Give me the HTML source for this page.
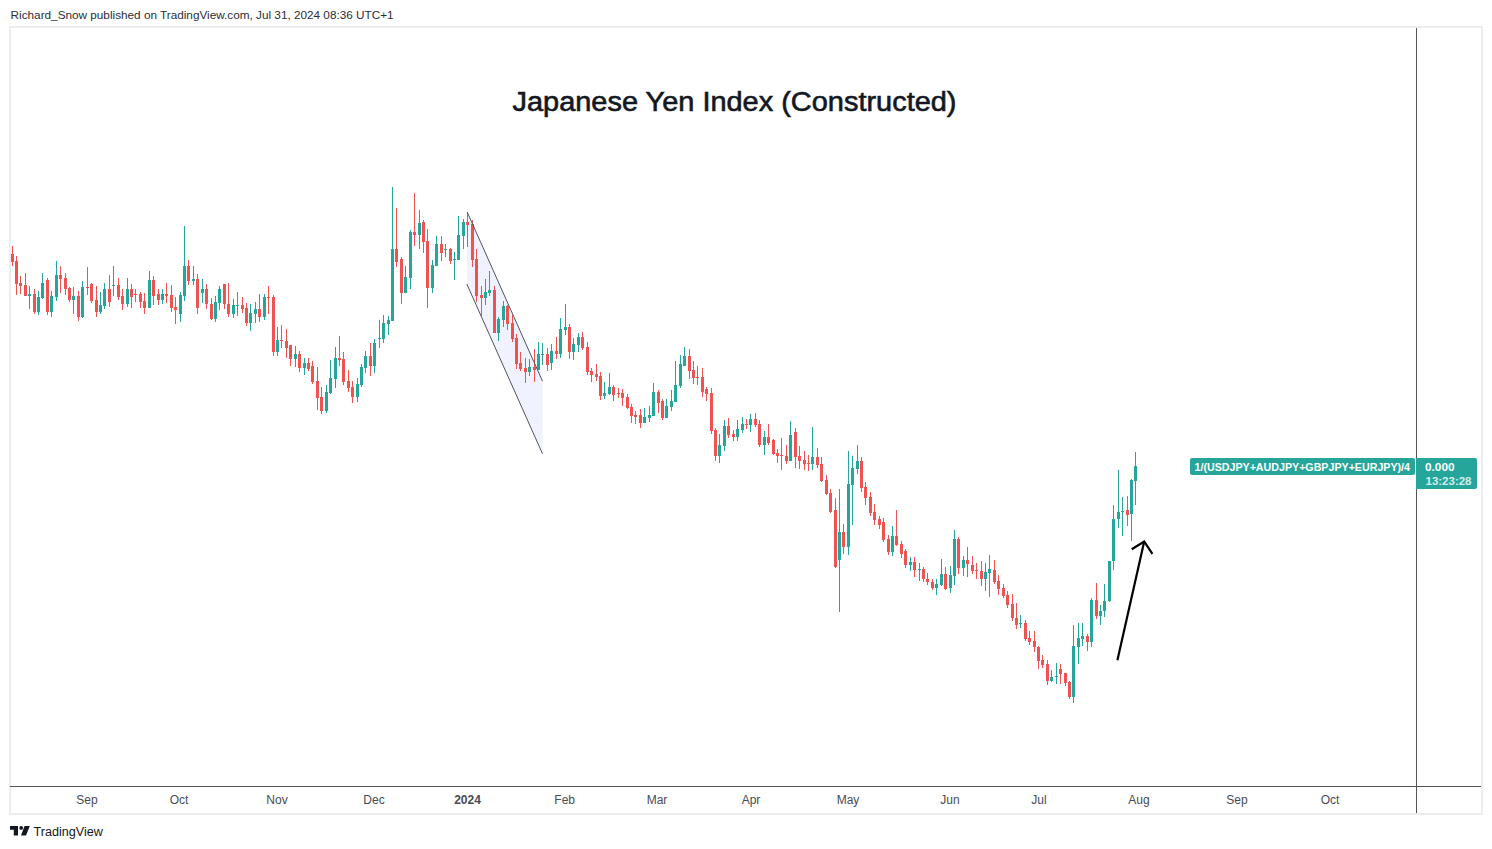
<!DOCTYPE html>
<html><head><meta charset="utf-8"><style>
html,body{margin:0;padding:0;background:#fff;}
body{width:1492px;height:849px;position:relative;overflow:hidden;font-family:"Liberation Sans",sans-serif;}
.hdr{position:absolute;left:10px;top:6px;font-size:12px;color:#131722;white-space:nowrap;line-height:16px;}
.box{position:absolute;left:9px;top:26px;width:1470px;height:785px;border:2px solid #ecedf1;}
svg{position:absolute;left:0;top:0;}
.tv{position:absolute;left:33px;top:822px;font-size:12.5px;color:#131722;line-height:16px;}
</style></head><body>
<div class="box"></div>
<svg width="1492" height="849" viewBox="0 0 1492 849" shape-rendering="crispEdges">
<rect x="10" y="786" width="1471" height="1" fill="#50535e"/>
<rect x="1416" y="28" width="1" height="785" fill="#50535e"/>
<g shape-rendering="auto">
<polygon points="467,212 542.5,381 542.5,453.5 467,284" fill="#f0f3ff"/>
</g>
<rect x="12" y="246" width="1" height="20" fill="#ef5350"/>
<rect x="11" y="254" width="3" height="8" fill="#ef5350"/>
<rect x="16" y="256" width="1" height="39" fill="#ef5350"/>
<rect x="15" y="261" width="3" height="23" fill="#ef5350"/>
<rect x="20" y="276" width="1" height="18" fill="#ef5350"/>
<rect x="19" y="283" width="3" height="3" fill="#ef5350"/>
<rect x="25" y="273" width="1" height="23" fill="#ef5350"/>
<rect x="24" y="285" width="3" height="11" fill="#ef5350"/>
<rect x="29" y="286" width="1" height="23" fill="#26a69a"/>
<rect x="28" y="294" width="3" height="2" fill="#26a69a"/>
<rect x="34" y="289" width="1" height="25" fill="#ef5350"/>
<rect x="33" y="294" width="3" height="18" fill="#ef5350"/>
<rect x="38" y="291" width="1" height="24" fill="#26a69a"/>
<rect x="37" y="297" width="3" height="15" fill="#26a69a"/>
<rect x="42" y="273" width="1" height="26" fill="#26a69a"/>
<rect x="41" y="283" width="3" height="15" fill="#26a69a"/>
<rect x="47" y="278" width="1" height="37" fill="#ef5350"/>
<rect x="46" y="280" width="3" height="32" fill="#ef5350"/>
<rect x="51" y="291" width="1" height="26" fill="#26a69a"/>
<rect x="50" y="296" width="3" height="16" fill="#26a69a"/>
<rect x="56" y="261" width="1" height="40" fill="#26a69a"/>
<rect x="55" y="275" width="3" height="22" fill="#26a69a"/>
<rect x="60" y="266" width="1" height="27" fill="#ef5350"/>
<rect x="59" y="275" width="3" height="4" fill="#ef5350"/>
<rect x="65" y="273" width="1" height="22" fill="#ef5350"/>
<rect x="64" y="278" width="3" height="11" fill="#ef5350"/>
<rect x="69" y="287" width="1" height="15" fill="#ef5350"/>
<rect x="68" y="288" width="3" height="12" fill="#ef5350"/>
<rect x="73" y="287" width="1" height="27" fill="#26a69a"/>
<rect x="72" y="296" width="3" height="4" fill="#26a69a"/>
<rect x="78" y="291" width="1" height="30" fill="#ef5350"/>
<rect x="77" y="296" width="3" height="21" fill="#ef5350"/>
<rect x="82" y="281" width="1" height="37" fill="#26a69a"/>
<rect x="81" y="287" width="3" height="30" fill="#26a69a"/>
<rect x="87" y="267" width="1" height="28" fill="#ef5350"/>
<rect x="86" y="287" width="3" height="1" fill="#ef5350"/>
<rect x="91" y="283" width="1" height="20" fill="#ef5350"/>
<rect x="90" y="284" width="3" height="17" fill="#ef5350"/>
<rect x="96" y="286" width="1" height="31" fill="#ef5350"/>
<rect x="95" y="300" width="3" height="12" fill="#ef5350"/>
<rect x="100" y="292" width="1" height="22" fill="#26a69a"/>
<rect x="99" y="305" width="3" height="7" fill="#26a69a"/>
<rect x="104" y="283" width="1" height="26" fill="#26a69a"/>
<rect x="103" y="289" width="3" height="17" fill="#26a69a"/>
<rect x="109" y="275" width="1" height="32" fill="#ef5350"/>
<rect x="108" y="289" width="3" height="13" fill="#ef5350"/>
<rect x="113" y="266" width="1" height="30" fill="#26a69a"/>
<rect x="112" y="285" width="3" height="1" fill="#26a69a"/>
<rect x="118" y="278" width="1" height="22" fill="#ef5350"/>
<rect x="117" y="285" width="3" height="12" fill="#ef5350"/>
<rect x="122" y="289" width="1" height="21" fill="#ef5350"/>
<rect x="121" y="296" width="3" height="8" fill="#ef5350"/>
<rect x="127" y="278" width="1" height="29" fill="#26a69a"/>
<rect x="126" y="289" width="3" height="15" fill="#26a69a"/>
<rect x="131" y="284" width="1" height="24" fill="#ef5350"/>
<rect x="130" y="289" width="3" height="8" fill="#ef5350"/>
<rect x="135" y="289" width="1" height="13" fill="#ef5350"/>
<rect x="134" y="294" width="3" height="1" fill="#ef5350"/>
<rect x="140" y="292" width="1" height="16" fill="#ef5350"/>
<rect x="139" y="294" width="3" height="8" fill="#ef5350"/>
<rect x="144" y="293" width="1" height="21" fill="#ef5350"/>
<rect x="143" y="301" width="3" height="7" fill="#ef5350"/>
<rect x="149" y="271" width="1" height="37" fill="#26a69a"/>
<rect x="148" y="280" width="3" height="28" fill="#26a69a"/>
<rect x="153" y="276" width="1" height="29" fill="#ef5350"/>
<rect x="152" y="280" width="3" height="16" fill="#ef5350"/>
<rect x="158" y="289" width="1" height="16" fill="#ef5350"/>
<rect x="157" y="294" width="3" height="6" fill="#ef5350"/>
<rect x="162" y="289" width="1" height="15" fill="#26a69a"/>
<rect x="161" y="294" width="3" height="6" fill="#26a69a"/>
<rect x="166" y="283" width="1" height="20" fill="#ef5350"/>
<rect x="165" y="294" width="3" height="2" fill="#ef5350"/>
<rect x="171" y="285" width="1" height="27" fill="#ef5350"/>
<rect x="170" y="295" width="3" height="13" fill="#ef5350"/>
<rect x="175" y="297" width="1" height="27" fill="#ef5350"/>
<rect x="174" y="307" width="3" height="3" fill="#ef5350"/>
<rect x="180" y="292" width="1" height="30" fill="#26a69a"/>
<rect x="179" y="295" width="3" height="19" fill="#26a69a"/>
<rect x="184" y="226" width="1" height="75" fill="#26a69a"/>
<rect x="183" y="266" width="3" height="30" fill="#26a69a"/>
<rect x="188" y="260" width="1" height="25" fill="#ef5350"/>
<rect x="187" y="266" width="3" height="15" fill="#ef5350"/>
<rect x="193" y="266" width="1" height="19" fill="#26a69a"/>
<rect x="192" y="279" width="3" height="2" fill="#26a69a"/>
<rect x="197" y="274" width="1" height="40" fill="#ef5350"/>
<rect x="196" y="279" width="3" height="29" fill="#ef5350"/>
<rect x="202" y="279" width="1" height="24" fill="#26a69a"/>
<rect x="201" y="289" width="3" height="4" fill="#26a69a"/>
<rect x="206" y="284" width="1" height="25" fill="#ef5350"/>
<rect x="205" y="289" width="3" height="15" fill="#ef5350"/>
<rect x="211" y="298" width="1" height="22" fill="#ef5350"/>
<rect x="210" y="304" width="3" height="15" fill="#ef5350"/>
<rect x="215" y="296" width="1" height="26" fill="#26a69a"/>
<rect x="214" y="302" width="3" height="17" fill="#26a69a"/>
<rect x="219" y="286" width="1" height="24" fill="#26a69a"/>
<rect x="218" y="289" width="3" height="14" fill="#26a69a"/>
<rect x="224" y="284" width="1" height="25" fill="#ef5350"/>
<rect x="223" y="284" width="3" height="20" fill="#ef5350"/>
<rect x="228" y="283" width="1" height="34" fill="#ef5350"/>
<rect x="227" y="304" width="3" height="10" fill="#ef5350"/>
<rect x="233" y="299" width="1" height="19" fill="#26a69a"/>
<rect x="232" y="305" width="3" height="9" fill="#26a69a"/>
<rect x="237" y="292" width="1" height="24" fill="#26a69a"/>
<rect x="236" y="305" width="3" height="1" fill="#26a69a"/>
<rect x="242" y="297" width="1" height="16" fill="#ef5350"/>
<rect x="241" y="305" width="3" height="4" fill="#ef5350"/>
<rect x="246" y="303" width="1" height="23" fill="#ef5350"/>
<rect x="245" y="308" width="3" height="15" fill="#ef5350"/>
<rect x="250" y="304" width="1" height="27" fill="#26a69a"/>
<rect x="249" y="313" width="3" height="10" fill="#26a69a"/>
<rect x="255" y="302" width="1" height="21" fill="#26a69a"/>
<rect x="254" y="309" width="3" height="5" fill="#26a69a"/>
<rect x="259" y="294" width="1" height="28" fill="#ef5350"/>
<rect x="258" y="309" width="3" height="8" fill="#ef5350"/>
<rect x="264" y="294" width="1" height="26" fill="#26a69a"/>
<rect x="263" y="297" width="3" height="20" fill="#26a69a"/>
<rect x="268" y="286" width="1" height="28" fill="#ef5350"/>
<rect x="267" y="297" width="3" height="1" fill="#ef5350"/>
<rect x="273" y="295" width="1" height="61" fill="#ef5350"/>
<rect x="272" y="297" width="3" height="55" fill="#ef5350"/>
<rect x="277" y="327" width="1" height="29" fill="#26a69a"/>
<rect x="276" y="340" width="3" height="12" fill="#26a69a"/>
<rect x="281" y="325" width="1" height="23" fill="#ef5350"/>
<rect x="280" y="340" width="3" height="1" fill="#ef5350"/>
<rect x="286" y="329" width="1" height="29" fill="#ef5350"/>
<rect x="285" y="341" width="3" height="7" fill="#ef5350"/>
<rect x="290" y="345" width="1" height="21" fill="#ef5350"/>
<rect x="289" y="345" width="3" height="14" fill="#ef5350"/>
<rect x="295" y="346" width="1" height="21" fill="#26a69a"/>
<rect x="294" y="354" width="3" height="5" fill="#26a69a"/>
<rect x="299" y="351" width="1" height="21" fill="#ef5350"/>
<rect x="298" y="354" width="3" height="14" fill="#ef5350"/>
<rect x="304" y="358" width="1" height="17" fill="#26a69a"/>
<rect x="303" y="363" width="3" height="5" fill="#26a69a"/>
<rect x="308" y="358" width="1" height="13" fill="#ef5350"/>
<rect x="307" y="363" width="3" height="6" fill="#ef5350"/>
<rect x="312" y="361" width="1" height="23" fill="#ef5350"/>
<rect x="311" y="366" width="3" height="16" fill="#ef5350"/>
<rect x="317" y="367" width="1" height="43" fill="#ef5350"/>
<rect x="316" y="381" width="3" height="17" fill="#ef5350"/>
<rect x="321" y="387" width="1" height="27" fill="#ef5350"/>
<rect x="320" y="397" width="3" height="14" fill="#ef5350"/>
<rect x="326" y="385" width="1" height="28" fill="#26a69a"/>
<rect x="325" y="392" width="3" height="19" fill="#26a69a"/>
<rect x="330" y="360" width="1" height="34" fill="#26a69a"/>
<rect x="329" y="378" width="3" height="15" fill="#26a69a"/>
<rect x="335" y="347" width="1" height="41" fill="#26a69a"/>
<rect x="334" y="358" width="3" height="21" fill="#26a69a"/>
<rect x="339" y="336" width="1" height="30" fill="#ef5350"/>
<rect x="338" y="358" width="3" height="2" fill="#ef5350"/>
<rect x="343" y="352" width="1" height="33" fill="#ef5350"/>
<rect x="342" y="359" width="3" height="23" fill="#ef5350"/>
<rect x="348" y="370" width="1" height="22" fill="#ef5350"/>
<rect x="347" y="381" width="3" height="7" fill="#ef5350"/>
<rect x="352" y="381" width="1" height="22" fill="#ef5350"/>
<rect x="351" y="387" width="3" height="10" fill="#ef5350"/>
<rect x="357" y="378" width="1" height="24" fill="#26a69a"/>
<rect x="356" y="384" width="3" height="13" fill="#26a69a"/>
<rect x="361" y="364" width="1" height="23" fill="#26a69a"/>
<rect x="360" y="367" width="3" height="18" fill="#26a69a"/>
<rect x="365" y="351" width="1" height="22" fill="#26a69a"/>
<rect x="364" y="356" width="3" height="12" fill="#26a69a"/>
<rect x="370" y="343" width="1" height="33" fill="#ef5350"/>
<rect x="369" y="356" width="3" height="10" fill="#ef5350"/>
<rect x="374" y="339" width="1" height="34" fill="#26a69a"/>
<rect x="373" y="343" width="3" height="23" fill="#26a69a"/>
<rect x="379" y="320" width="1" height="28" fill="#26a69a"/>
<rect x="378" y="338" width="3" height="1" fill="#26a69a"/>
<rect x="383" y="315" width="1" height="28" fill="#26a69a"/>
<rect x="382" y="323" width="3" height="16" fill="#26a69a"/>
<rect x="388" y="316" width="1" height="19" fill="#26a69a"/>
<rect x="387" y="320" width="3" height="4" fill="#26a69a"/>
<rect x="392" y="187" width="1" height="134" fill="#26a69a"/>
<rect x="391" y="249" width="3" height="72" fill="#26a69a"/>
<rect x="396" y="208" width="1" height="59" fill="#ef5350"/>
<rect x="395" y="249" width="3" height="13" fill="#ef5350"/>
<rect x="401" y="257" width="1" height="47" fill="#ef5350"/>
<rect x="400" y="259" width="3" height="34" fill="#ef5350"/>
<rect x="405" y="266" width="1" height="27" fill="#26a69a"/>
<rect x="404" y="277" width="3" height="16" fill="#26a69a"/>
<rect x="410" y="230" width="1" height="59" fill="#26a69a"/>
<rect x="409" y="232" width="3" height="46" fill="#26a69a"/>
<rect x="414" y="193" width="1" height="53" fill="#ef5350"/>
<rect x="413" y="232" width="3" height="3" fill="#ef5350"/>
<rect x="419" y="210" width="1" height="39" fill="#26a69a"/>
<rect x="418" y="223" width="3" height="12" fill="#26a69a"/>
<rect x="423" y="220" width="1" height="33" fill="#ef5350"/>
<rect x="422" y="222" width="3" height="20" fill="#ef5350"/>
<rect x="427" y="229" width="1" height="79" fill="#ef5350"/>
<rect x="426" y="241" width="3" height="47" fill="#ef5350"/>
<rect x="432" y="260" width="1" height="33" fill="#26a69a"/>
<rect x="431" y="265" width="3" height="23" fill="#26a69a"/>
<rect x="436" y="236" width="1" height="30" fill="#26a69a"/>
<rect x="435" y="244" width="3" height="22" fill="#26a69a"/>
<rect x="441" y="236" width="1" height="25" fill="#ef5350"/>
<rect x="440" y="244" width="3" height="9" fill="#ef5350"/>
<rect x="445" y="244" width="1" height="13" fill="#26a69a"/>
<rect x="444" y="249" width="3" height="1" fill="#26a69a"/>
<rect x="450" y="248" width="1" height="16" fill="#ef5350"/>
<rect x="449" y="249" width="3" height="12" fill="#ef5350"/>
<rect x="454" y="252" width="1" height="28" fill="#26a69a"/>
<rect x="453" y="259" width="3" height="1" fill="#26a69a"/>
<rect x="458" y="216" width="1" height="44" fill="#26a69a"/>
<rect x="457" y="235" width="3" height="25" fill="#26a69a"/>
<rect x="463" y="219" width="1" height="30" fill="#26a69a"/>
<rect x="462" y="222" width="3" height="14" fill="#26a69a"/>
<rect x="467" y="212" width="1" height="35" fill="#ef5350"/>
<rect x="466" y="222" width="3" height="3" fill="#ef5350"/>
<rect x="472" y="220" width="1" height="47" fill="#ef5350"/>
<rect x="471" y="224" width="3" height="36" fill="#ef5350"/>
<rect x="476" y="249" width="1" height="53" fill="#ef5350"/>
<rect x="475" y="259" width="3" height="37" fill="#ef5350"/>
<rect x="481" y="286" width="1" height="30" fill="#ef5350"/>
<rect x="480" y="295" width="3" height="3" fill="#ef5350"/>
<rect x="485" y="279" width="1" height="26" fill="#26a69a"/>
<rect x="484" y="292" width="3" height="6" fill="#26a69a"/>
<rect x="489" y="271" width="1" height="25" fill="#26a69a"/>
<rect x="488" y="290" width="3" height="3" fill="#26a69a"/>
<rect x="494" y="286" width="1" height="47" fill="#ef5350"/>
<rect x="493" y="290" width="3" height="43" fill="#ef5350"/>
<rect x="498" y="317" width="1" height="24" fill="#26a69a"/>
<rect x="497" y="319" width="3" height="14" fill="#26a69a"/>
<rect x="503" y="301" width="1" height="26" fill="#26a69a"/>
<rect x="502" y="306" width="3" height="14" fill="#26a69a"/>
<rect x="507" y="305" width="1" height="25" fill="#ef5350"/>
<rect x="506" y="306" width="3" height="18" fill="#ef5350"/>
<rect x="512" y="315" width="1" height="27" fill="#ef5350"/>
<rect x="511" y="323" width="3" height="16" fill="#ef5350"/>
<rect x="516" y="334" width="1" height="35" fill="#ef5350"/>
<rect x="515" y="338" width="3" height="26" fill="#ef5350"/>
<rect x="520" y="352" width="1" height="19" fill="#ef5350"/>
<rect x="519" y="363" width="3" height="6" fill="#ef5350"/>
<rect x="525" y="358" width="1" height="25" fill="#ef5350"/>
<rect x="524" y="368" width="3" height="4" fill="#ef5350"/>
<rect x="529" y="359" width="1" height="17" fill="#26a69a"/>
<rect x="528" y="367" width="3" height="5" fill="#26a69a"/>
<rect x="534" y="349" width="1" height="33" fill="#ef5350"/>
<rect x="533" y="367" width="3" height="3" fill="#ef5350"/>
<rect x="538" y="342" width="1" height="28" fill="#26a69a"/>
<rect x="537" y="354" width="3" height="16" fill="#26a69a"/>
<rect x="542" y="343" width="1" height="22" fill="#26a69a"/>
<rect x="541" y="354" width="3" height="1" fill="#26a69a"/>
<rect x="547" y="348" width="1" height="23" fill="#ef5350"/>
<rect x="546" y="354" width="3" height="11" fill="#ef5350"/>
<rect x="551" y="344" width="1" height="26" fill="#26a69a"/>
<rect x="550" y="351" width="3" height="12" fill="#26a69a"/>
<rect x="556" y="337" width="1" height="22" fill="#ef5350"/>
<rect x="555" y="351" width="3" height="3" fill="#ef5350"/>
<rect x="560" y="318" width="1" height="40" fill="#26a69a"/>
<rect x="559" y="329" width="3" height="25" fill="#26a69a"/>
<rect x="565" y="304" width="1" height="31" fill="#26a69a"/>
<rect x="564" y="327" width="3" height="3" fill="#26a69a"/>
<rect x="569" y="324" width="1" height="35" fill="#ef5350"/>
<rect x="568" y="327" width="3" height="25" fill="#ef5350"/>
<rect x="573" y="338" width="1" height="22" fill="#26a69a"/>
<rect x="572" y="344" width="3" height="8" fill="#26a69a"/>
<rect x="578" y="333" width="1" height="19" fill="#26a69a"/>
<rect x="577" y="337" width="3" height="8" fill="#26a69a"/>
<rect x="582" y="332" width="1" height="18" fill="#ef5350"/>
<rect x="581" y="337" width="3" height="11" fill="#ef5350"/>
<rect x="587" y="342" width="1" height="33" fill="#ef5350"/>
<rect x="586" y="347" width="3" height="25" fill="#ef5350"/>
<rect x="591" y="368" width="1" height="14" fill="#ef5350"/>
<rect x="590" y="371" width="3" height="4" fill="#ef5350"/>
<rect x="596" y="364" width="1" height="17" fill="#ef5350"/>
<rect x="595" y="374" width="3" height="3" fill="#ef5350"/>
<rect x="600" y="372" width="1" height="28" fill="#ef5350"/>
<rect x="599" y="376" width="3" height="20" fill="#ef5350"/>
<rect x="604" y="382" width="1" height="17" fill="#26a69a"/>
<rect x="603" y="393" width="3" height="3" fill="#26a69a"/>
<rect x="609" y="373" width="1" height="22" fill="#26a69a"/>
<rect x="608" y="387" width="3" height="7" fill="#26a69a"/>
<rect x="613" y="385" width="1" height="16" fill="#ef5350"/>
<rect x="612" y="387" width="3" height="8" fill="#ef5350"/>
<rect x="618" y="388" width="1" height="10" fill="#ef5350"/>
<rect x="617" y="393" width="3" height="1" fill="#ef5350"/>
<rect x="622" y="389" width="1" height="17" fill="#ef5350"/>
<rect x="621" y="393" width="3" height="5" fill="#ef5350"/>
<rect x="627" y="394" width="1" height="15" fill="#ef5350"/>
<rect x="626" y="397" width="3" height="11" fill="#ef5350"/>
<rect x="631" y="404" width="1" height="19" fill="#ef5350"/>
<rect x="630" y="407" width="3" height="9" fill="#ef5350"/>
<rect x="635" y="411" width="1" height="13" fill="#ef5350"/>
<rect x="634" y="415" width="3" height="2" fill="#ef5350"/>
<rect x="640" y="409" width="1" height="19" fill="#ef5350"/>
<rect x="639" y="415" width="3" height="8" fill="#ef5350"/>
<rect x="644" y="408" width="1" height="15" fill="#26a69a"/>
<rect x="643" y="417" width="3" height="6" fill="#26a69a"/>
<rect x="649" y="406" width="1" height="16" fill="#26a69a"/>
<rect x="648" y="415" width="3" height="3" fill="#26a69a"/>
<rect x="653" y="383" width="1" height="33" fill="#26a69a"/>
<rect x="652" y="392" width="3" height="24" fill="#26a69a"/>
<rect x="658" y="390" width="1" height="23" fill="#ef5350"/>
<rect x="657" y="392" width="3" height="11" fill="#ef5350"/>
<rect x="662" y="399" width="1" height="21" fill="#ef5350"/>
<rect x="661" y="401" width="3" height="17" fill="#ef5350"/>
<rect x="666" y="399" width="1" height="19" fill="#26a69a"/>
<rect x="665" y="406" width="3" height="12" fill="#26a69a"/>
<rect x="671" y="390" width="1" height="21" fill="#26a69a"/>
<rect x="670" y="401" width="3" height="6" fill="#26a69a"/>
<rect x="675" y="361" width="1" height="41" fill="#26a69a"/>
<rect x="674" y="385" width="3" height="17" fill="#26a69a"/>
<rect x="680" y="355" width="1" height="33" fill="#26a69a"/>
<rect x="679" y="364" width="3" height="22" fill="#26a69a"/>
<rect x="684" y="347" width="1" height="19" fill="#26a69a"/>
<rect x="683" y="356" width="3" height="10" fill="#26a69a"/>
<rect x="689" y="349" width="1" height="30" fill="#ef5350"/>
<rect x="688" y="356" width="3" height="15" fill="#ef5350"/>
<rect x="693" y="361" width="1" height="23" fill="#ef5350"/>
<rect x="692" y="370" width="3" height="8" fill="#ef5350"/>
<rect x="697" y="366" width="1" height="19" fill="#ef5350"/>
<rect x="696" y="377" width="3" height="1" fill="#ef5350"/>
<rect x="702" y="368" width="1" height="29" fill="#ef5350"/>
<rect x="701" y="377" width="3" height="15" fill="#ef5350"/>
<rect x="706" y="387" width="1" height="14" fill="#ef5350"/>
<rect x="705" y="389" width="3" height="5" fill="#ef5350"/>
<rect x="711" y="388" width="1" height="46" fill="#ef5350"/>
<rect x="710" y="393" width="3" height="38" fill="#ef5350"/>
<rect x="715" y="428" width="1" height="33" fill="#ef5350"/>
<rect x="714" y="430" width="3" height="26" fill="#ef5350"/>
<rect x="719" y="434" width="1" height="29" fill="#26a69a"/>
<rect x="718" y="445" width="3" height="11" fill="#26a69a"/>
<rect x="724" y="420" width="1" height="31" fill="#26a69a"/>
<rect x="723" y="426" width="3" height="20" fill="#26a69a"/>
<rect x="728" y="418" width="1" height="20" fill="#ef5350"/>
<rect x="727" y="426" width="3" height="9" fill="#ef5350"/>
<rect x="733" y="430" width="1" height="11" fill="#ef5350"/>
<rect x="732" y="434" width="3" height="3" fill="#ef5350"/>
<rect x="737" y="420" width="1" height="21" fill="#26a69a"/>
<rect x="736" y="429" width="3" height="8" fill="#26a69a"/>
<rect x="742" y="417" width="1" height="16" fill="#26a69a"/>
<rect x="741" y="424" width="3" height="6" fill="#26a69a"/>
<rect x="746" y="419" width="1" height="10" fill="#ef5350"/>
<rect x="745" y="424" width="3" height="1" fill="#ef5350"/>
<rect x="750" y="414" width="1" height="18" fill="#26a69a"/>
<rect x="749" y="419" width="3" height="6" fill="#26a69a"/>
<rect x="755" y="413" width="1" height="14" fill="#ef5350"/>
<rect x="754" y="419" width="3" height="6" fill="#ef5350"/>
<rect x="759" y="420" width="1" height="27" fill="#ef5350"/>
<rect x="758" y="424" width="3" height="21" fill="#ef5350"/>
<rect x="764" y="431" width="1" height="24" fill="#26a69a"/>
<rect x="763" y="437" width="3" height="8" fill="#26a69a"/>
<rect x="768" y="424" width="1" height="21" fill="#ef5350"/>
<rect x="767" y="437" width="3" height="6" fill="#ef5350"/>
<rect x="773" y="439" width="1" height="16" fill="#ef5350"/>
<rect x="772" y="440" width="3" height="14" fill="#ef5350"/>
<rect x="777" y="449" width="1" height="14" fill="#ef5350"/>
<rect x="776" y="453" width="3" height="3" fill="#ef5350"/>
<rect x="781" y="438" width="1" height="32" fill="#ef5350"/>
<rect x="780" y="455" width="3" height="1" fill="#ef5350"/>
<rect x="786" y="445" width="1" height="19" fill="#ef5350"/>
<rect x="785" y="456" width="3" height="5" fill="#ef5350"/>
<rect x="790" y="421" width="1" height="40" fill="#26a69a"/>
<rect x="789" y="435" width="3" height="26" fill="#26a69a"/>
<rect x="795" y="428" width="1" height="40" fill="#ef5350"/>
<rect x="794" y="432" width="3" height="25" fill="#ef5350"/>
<rect x="799" y="446" width="1" height="23" fill="#ef5350"/>
<rect x="798" y="456" width="3" height="5" fill="#ef5350"/>
<rect x="804" y="451" width="1" height="19" fill="#ef5350"/>
<rect x="803" y="460" width="3" height="4" fill="#ef5350"/>
<rect x="808" y="455" width="1" height="16" fill="#ef5350"/>
<rect x="807" y="463" width="3" height="1" fill="#ef5350"/>
<rect x="812" y="427" width="1" height="43" fill="#26a69a"/>
<rect x="811" y="457" width="3" height="7" fill="#26a69a"/>
<rect x="817" y="448" width="1" height="20" fill="#ef5350"/>
<rect x="816" y="457" width="3" height="8" fill="#ef5350"/>
<rect x="821" y="457" width="1" height="25" fill="#ef5350"/>
<rect x="820" y="464" width="3" height="17" fill="#ef5350"/>
<rect x="826" y="475" width="1" height="20" fill="#ef5350"/>
<rect x="825" y="480" width="3" height="14" fill="#ef5350"/>
<rect x="830" y="489" width="1" height="24" fill="#ef5350"/>
<rect x="829" y="493" width="3" height="19" fill="#ef5350"/>
<rect x="835" y="498" width="1" height="70" fill="#ef5350"/>
<rect x="834" y="510" width="3" height="57" fill="#ef5350"/>
<rect x="839" y="489" width="1" height="123" fill="#26a69a"/>
<rect x="838" y="532" width="3" height="28" fill="#26a69a"/>
<rect x="843" y="524" width="1" height="30" fill="#ef5350"/>
<rect x="842" y="532" width="3" height="15" fill="#ef5350"/>
<rect x="848" y="451" width="1" height="104" fill="#26a69a"/>
<rect x="847" y="484" width="3" height="63" fill="#26a69a"/>
<rect x="852" y="456" width="1" height="69" fill="#26a69a"/>
<rect x="851" y="468" width="3" height="17" fill="#26a69a"/>
<rect x="857" y="445" width="1" height="29" fill="#26a69a"/>
<rect x="856" y="461" width="3" height="8" fill="#26a69a"/>
<rect x="861" y="457" width="1" height="35" fill="#ef5350"/>
<rect x="860" y="461" width="3" height="27" fill="#ef5350"/>
<rect x="865" y="482" width="1" height="23" fill="#ef5350"/>
<rect x="864" y="487" width="3" height="11" fill="#ef5350"/>
<rect x="870" y="492" width="1" height="24" fill="#ef5350"/>
<rect x="869" y="497" width="3" height="16" fill="#ef5350"/>
<rect x="874" y="504" width="1" height="21" fill="#ef5350"/>
<rect x="873" y="512" width="3" height="8" fill="#ef5350"/>
<rect x="879" y="516" width="1" height="13" fill="#ef5350"/>
<rect x="878" y="519" width="3" height="6" fill="#ef5350"/>
<rect x="883" y="518" width="1" height="24" fill="#ef5350"/>
<rect x="882" y="522" width="3" height="18" fill="#ef5350"/>
<rect x="888" y="535" width="1" height="20" fill="#ef5350"/>
<rect x="887" y="539" width="3" height="13" fill="#ef5350"/>
<rect x="892" y="526" width="1" height="30" fill="#26a69a"/>
<rect x="891" y="536" width="3" height="16" fill="#26a69a"/>
<rect x="896" y="510" width="1" height="36" fill="#ef5350"/>
<rect x="895" y="536" width="3" height="9" fill="#ef5350"/>
<rect x="901" y="541" width="1" height="17" fill="#ef5350"/>
<rect x="900" y="544" width="3" height="10" fill="#ef5350"/>
<rect x="905" y="549" width="1" height="19" fill="#ef5350"/>
<rect x="904" y="551" width="3" height="14" fill="#ef5350"/>
<rect x="910" y="557" width="1" height="14" fill="#26a69a"/>
<rect x="909" y="562" width="3" height="3" fill="#26a69a"/>
<rect x="914" y="557" width="1" height="20" fill="#ef5350"/>
<rect x="913" y="562" width="3" height="8" fill="#ef5350"/>
<rect x="919" y="563" width="1" height="18" fill="#26a69a"/>
<rect x="918" y="569" width="3" height="1" fill="#26a69a"/>
<rect x="923" y="567" width="1" height="15" fill="#ef5350"/>
<rect x="922" y="569" width="3" height="10" fill="#ef5350"/>
<rect x="927" y="573" width="1" height="12" fill="#ef5350"/>
<rect x="926" y="579" width="3" height="3" fill="#ef5350"/>
<rect x="932" y="579" width="1" height="11" fill="#ef5350"/>
<rect x="931" y="582" width="3" height="6" fill="#ef5350"/>
<rect x="936" y="579" width="1" height="16" fill="#26a69a"/>
<rect x="935" y="584" width="3" height="4" fill="#26a69a"/>
<rect x="941" y="559" width="1" height="27" fill="#26a69a"/>
<rect x="940" y="574" width="3" height="11" fill="#26a69a"/>
<rect x="945" y="567" width="1" height="23" fill="#ef5350"/>
<rect x="944" y="574" width="3" height="15" fill="#ef5350"/>
<rect x="950" y="566" width="1" height="27" fill="#26a69a"/>
<rect x="949" y="575" width="3" height="13" fill="#26a69a"/>
<rect x="954" y="530" width="1" height="55" fill="#26a69a"/>
<rect x="953" y="539" width="3" height="37" fill="#26a69a"/>
<rect x="958" y="537" width="1" height="37" fill="#ef5350"/>
<rect x="957" y="539" width="3" height="29" fill="#ef5350"/>
<rect x="963" y="556" width="1" height="20" fill="#26a69a"/>
<rect x="962" y="560" width="3" height="8" fill="#26a69a"/>
<rect x="967" y="547" width="1" height="30" fill="#ef5350"/>
<rect x="966" y="560" width="3" height="4" fill="#ef5350"/>
<rect x="972" y="556" width="1" height="18" fill="#ef5350"/>
<rect x="971" y="565" width="3" height="6" fill="#ef5350"/>
<rect x="976" y="563" width="1" height="16" fill="#ef5350"/>
<rect x="975" y="570" width="3" height="1" fill="#ef5350"/>
<rect x="981" y="561" width="1" height="25" fill="#ef5350"/>
<rect x="980" y="571" width="3" height="8" fill="#ef5350"/>
<rect x="985" y="563" width="1" height="28" fill="#26a69a"/>
<rect x="984" y="572" width="3" height="7" fill="#26a69a"/>
<rect x="989" y="555" width="1" height="42" fill="#26a69a"/>
<rect x="988" y="569" width="3" height="4" fill="#26a69a"/>
<rect x="994" y="560" width="1" height="24" fill="#ef5350"/>
<rect x="993" y="570" width="3" height="12" fill="#ef5350"/>
<rect x="998" y="575" width="1" height="20" fill="#ef5350"/>
<rect x="997" y="581" width="3" height="8" fill="#ef5350"/>
<rect x="1003" y="584" width="1" height="14" fill="#ef5350"/>
<rect x="1002" y="588" width="3" height="8" fill="#ef5350"/>
<rect x="1007" y="591" width="1" height="17" fill="#ef5350"/>
<rect x="1006" y="595" width="3" height="10" fill="#ef5350"/>
<rect x="1012" y="594" width="1" height="27" fill="#ef5350"/>
<rect x="1011" y="604" width="3" height="14" fill="#ef5350"/>
<rect x="1016" y="603" width="1" height="26" fill="#ef5350"/>
<rect x="1015" y="618" width="3" height="7" fill="#ef5350"/>
<rect x="1020" y="615" width="1" height="13" fill="#26a69a"/>
<rect x="1019" y="623" width="3" height="1" fill="#26a69a"/>
<rect x="1025" y="620" width="1" height="21" fill="#ef5350"/>
<rect x="1024" y="623" width="3" height="16" fill="#ef5350"/>
<rect x="1029" y="631" width="1" height="14" fill="#ef5350"/>
<rect x="1028" y="638" width="3" height="4" fill="#ef5350"/>
<rect x="1034" y="631" width="1" height="21" fill="#ef5350"/>
<rect x="1033" y="641" width="3" height="6" fill="#ef5350"/>
<rect x="1038" y="646" width="1" height="23" fill="#ef5350"/>
<rect x="1037" y="647" width="3" height="14" fill="#ef5350"/>
<rect x="1042" y="655" width="1" height="13" fill="#ef5350"/>
<rect x="1041" y="660" width="3" height="5" fill="#ef5350"/>
<rect x="1047" y="660" width="1" height="25" fill="#ef5350"/>
<rect x="1046" y="664" width="3" height="17" fill="#ef5350"/>
<rect x="1051" y="670" width="1" height="12" fill="#26a69a"/>
<rect x="1050" y="677" width="3" height="4" fill="#26a69a"/>
<rect x="1056" y="663" width="1" height="21" fill="#26a69a"/>
<rect x="1055" y="676" width="3" height="1" fill="#26a69a"/>
<rect x="1060" y="664" width="1" height="20" fill="#ef5350"/>
<rect x="1059" y="669" width="3" height="5" fill="#ef5350"/>
<rect x="1065" y="673" width="1" height="13" fill="#ef5350"/>
<rect x="1064" y="673" width="3" height="10" fill="#ef5350"/>
<rect x="1069" y="681" width="1" height="18" fill="#ef5350"/>
<rect x="1068" y="682" width="3" height="15" fill="#ef5350"/>
<rect x="1073" y="625" width="1" height="78" fill="#26a69a"/>
<rect x="1072" y="646" width="3" height="51" fill="#26a69a"/>
<rect x="1078" y="623" width="1" height="41" fill="#26a69a"/>
<rect x="1077" y="638" width="3" height="9" fill="#26a69a"/>
<rect x="1082" y="623" width="1" height="23" fill="#26a69a"/>
<rect x="1081" y="636" width="3" height="3" fill="#26a69a"/>
<rect x="1087" y="634" width="1" height="17" fill="#ef5350"/>
<rect x="1086" y="636" width="3" height="6" fill="#ef5350"/>
<rect x="1091" y="598" width="1" height="49" fill="#26a69a"/>
<rect x="1090" y="600" width="3" height="42" fill="#26a69a"/>
<rect x="1096" y="583" width="1" height="36" fill="#ef5350"/>
<rect x="1095" y="600" width="3" height="16" fill="#ef5350"/>
<rect x="1100" y="605" width="1" height="20" fill="#26a69a"/>
<rect x="1099" y="611" width="3" height="5" fill="#26a69a"/>
<rect x="1104" y="584" width="1" height="33" fill="#26a69a"/>
<rect x="1103" y="601" width="3" height="10" fill="#26a69a"/>
<rect x="1109" y="561" width="1" height="41" fill="#26a69a"/>
<rect x="1108" y="561" width="3" height="40" fill="#26a69a"/>
<rect x="1113" y="505" width="1" height="65" fill="#26a69a"/>
<rect x="1112" y="519" width="3" height="42" fill="#26a69a"/>
<rect x="1118" y="470" width="1" height="58" fill="#26a69a"/>
<rect x="1117" y="512" width="3" height="7" fill="#26a69a"/>
<rect x="1122" y="497" width="1" height="39" fill="#26a69a"/>
<rect x="1121" y="511" width="3" height="1" fill="#26a69a"/>
<rect x="1127" y="496" width="1" height="30" fill="#ef5350"/>
<rect x="1126" y="510" width="3" height="5" fill="#ef5350"/>
<rect x="1131" y="479" width="1" height="62" fill="#26a69a"/>
<rect x="1130" y="480" width="3" height="34" fill="#26a69a"/>
<rect x="1135" y="452" width="1" height="53" fill="#26a69a"/>
<rect x="1134" y="466" width="3" height="15" fill="#26a69a"/>
<g shape-rendering="auto" stroke="#50535e" stroke-width="1" fill="none">
<line x1="467.2" y1="212" x2="542.5" y2="381.2"/>
<line x1="466.8" y1="284" x2="542.5" y2="453.8"/>
</g>
<g shape-rendering="auto" stroke="#000" stroke-width="2.2" fill="none" stroke-linecap="butt" stroke-linejoin="miter">
<line x1="1117.4" y1="660.2" x2="1144.2" y2="541.5"/>
<polyline points="1131.7,549.3 1144.2,541.5 1152.4,553.9"/>
</g>
<g font-family="Liberation Sans, sans-serif" font-size="12" fill="#474b58">
<text x="87" y="804" text-anchor="middle">Sep</text>
<text x="179" y="804" text-anchor="middle">Oct</text>
<text x="277" y="804" text-anchor="middle">Nov</text>
<text x="374" y="804" text-anchor="middle">Dec</text>
<text x="467.5" y="804" text-anchor="middle" font-weight="bold">2024</text>
<text x="564.7" y="804" text-anchor="middle">Feb</text>
<text x="657" y="804" text-anchor="middle">Mar</text>
<text x="751" y="804" text-anchor="middle">Apr</text>
<text x="848" y="804" text-anchor="middle">May</text>
<text x="950" y="804" text-anchor="middle">Jun</text>
<text x="1039" y="804" text-anchor="middle">Jul</text>
<text x="1139" y="804" text-anchor="middle">Aug</text>
<text x="1237" y="804" text-anchor="middle">Sep</text>
<text x="1330" y="804" text-anchor="middle">Oct</text>
</g>
<g font-family="Liberation Sans, sans-serif" font-weight="bold" font-size="11" fill="#fff" shape-rendering="auto">
<rect x="1190" y="458" width="225" height="17" rx="2" fill="#26a69a"/>
<text x="1194.5" y="470.5" textLength="215.5" lengthAdjust="spacingAndGlyphs">1/(USDJPY+AUDJPY+GBPJPY+EURJPY)/4</text>
<path d="M1416 458 H1475 a2 2 0 0 1 2 2 V487 a2 2 0 0 1 -2 2 H1416 Z" fill="#26a69a"/>
<text x="1425" y="470.5" textLength="29.5" lengthAdjust="spacingAndGlyphs">0.000</text>
<text x="1425.5" y="484.6" fill="#d4eeeb" textLength="46" lengthAdjust="spacingAndGlyphs">13:23:28</text>
</g>
<text x="512.5" y="110.6" textLength="444" lengthAdjust="spacingAndGlyphs" font-family="Liberation Sans, sans-serif" font-size="27" fill="#131722" stroke="#131722" stroke-width="0.6">Japanese Yen Index (Constructed)</text>
<text x="10.6" y="18.7" textLength="383" lengthAdjust="spacingAndGlyphs" font-family="Liberation Sans, sans-serif" font-size="11.6" fill="#2a2e39">Richard_Snow published on TradingView.com, Jul 31, 2024 08:36 UTC+1</text>
<text x="33.5" y="835.6" textLength="69.5" lengthAdjust="spacingAndGlyphs" font-family="Liberation Sans, sans-serif" font-size="12" fill="#131722">TradingView</text>
<g fill="#131722" shape-rendering="auto">
<path d="M10 826 H18 V835.6 H13.8 V829.7 H10 Z"/>
<circle cx="21.2" cy="827.9" r="1.9"/>
<path d="M24.6 826 H29.8 L26 835.6 H21 Z"/>
</g>
</svg>
</body></html>
